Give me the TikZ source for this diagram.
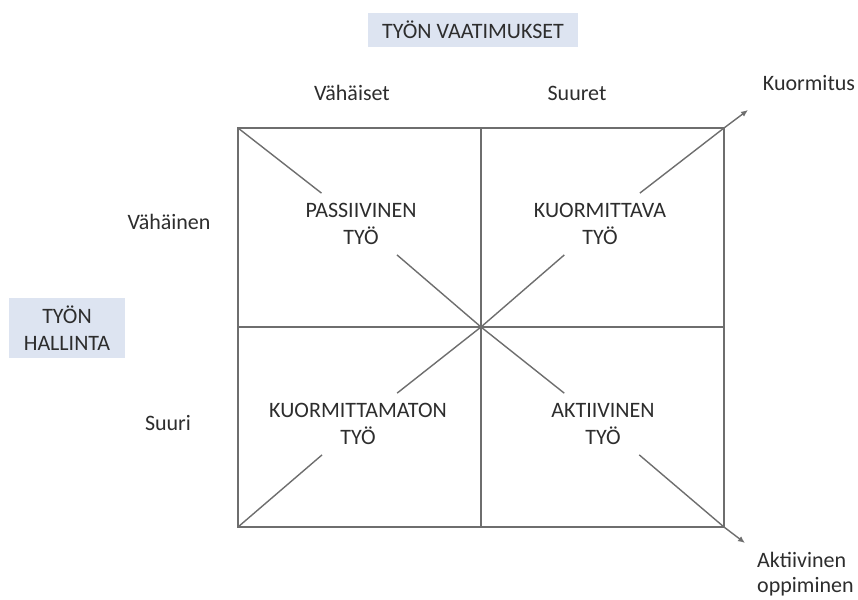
\documentclass[tikz,border=0pt]{standalone}
\usepackage{fontspec}
\setmainfont{Carlito}
\usetikzlibrary{arrows.meta}
\definecolor{ln}{RGB}{110,110,110}
\definecolor{tx}{RGB}{45,45,45}
\definecolor{hdr}{RGB}{221,228,241}
\begin{document}
\begin{tikzpicture}[x=1pt,y=-1pt,
  font=\fontsize{22}{27}\selectfont,
  every node/.style={text=tx},
  quad/.style={align=center, inner sep=10pt},
  lbl/.style={inner sep=0pt},
  hdrbox/.style={fill=hdr, align=center, inner sep=0pt},
  grid/.style={draw=ln, line width=1.8pt},
  diag/.style={draw=ln, line width=1.4pt},
  tip/.style={-{Latex[length=7pt,width=6pt]}}]
\useasboundingbox (0,0) rectangle (858,599);
\fill[white] (0,0) rectangle (858,599);
% corners and midpoints
\coordinate (tl) at (238,128);
\coordinate (tr) at (724,128);
\coordinate (bl) at (238,527);
\coordinate (br) at (724,527);
\coordinate (c)  at (481,327);
\coordinate (tm) at (481,128);
\coordinate (bm) at (481,527);
\coordinate (ml) at (238,327);
\coordinate (mr) at (724,327);
\coordinate (kt) at (748,110);
\coordinate (at) at (745,543);
% quadrant labels
\node[quad] (pass)   at (361,224) {PASSIIVINEN\\TYÖ};
\node[quad] (kuor)   at (600,224) {KUORMITTAVA\\TYÖ};
\node[quad] (kuormt) at (358,424) {KUORMITTAMATON\\TYÖ};
\node[quad] (akt)    at (603,424) {AKTIIVINEN\\TYÖ};
% grid
\draw[grid] (tl) rectangle (br);
\draw[grid] (tm) -- (bm);
\draw[grid] (ml) -- (mr);
% diagonals
\draw[diag] (tl) -- (pass);
\draw[diag] (pass) -- (c) -- (akt);
\draw[diag, tip] (akt) -- (br) -- (at);
\draw[diag] (bl) -- (kuormt);
\draw[diag] (kuormt) -- (c) -- (kuor);
\draw[diag, tip] (kuor) -- (tr) -- (kt);
% headers
\node[hdrbox, minimum width=210pt, minimum height=34pt] (tv) at (473,30) {TYÖN VAATIMUKSET};
\node[hdrbox, minimum width=116pt, minimum height=60pt] (th) at (67,328) {TYÖN\\HALLINTA};
% axis labels
\node[lbl] (vs) at (352,93) {Vähäiset};
\node[lbl] (su) at (577,93) {Suuret};
\node[lbl] (ku) at (809,83) {Kuormitus};
\node[lbl] (vn) at (169,222) {Vähäinen};
\node[lbl] (sr) at (168,423) {Suuri};
\node[lbl, anchor=west, align=left, font=\fontsize{22}{25}\selectfont] (ao) at (757,574) {Aktiivinen\\oppiminen};
\end{tikzpicture}
\end{document}
